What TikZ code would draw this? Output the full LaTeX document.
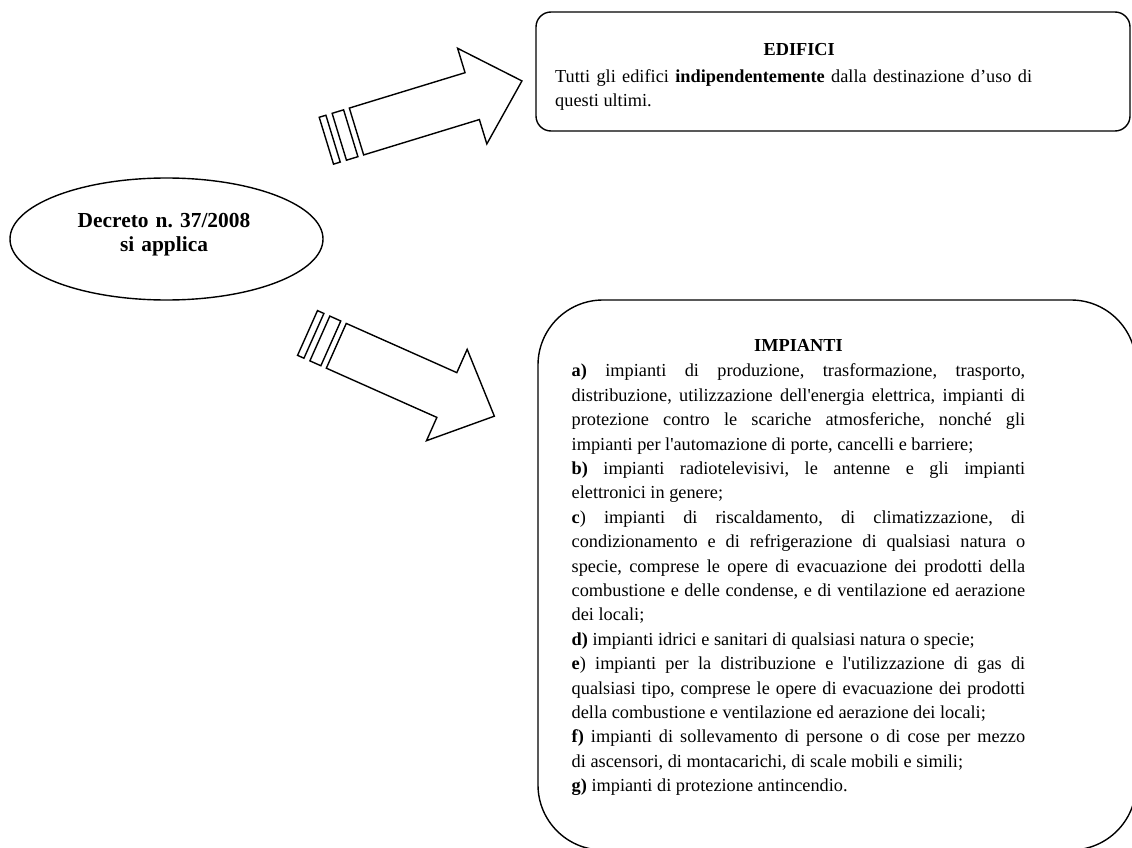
\documentclass[tikz,border=0pt]{standalone}
\usepackage{fontspec}
\setmainfont{Liberation Serif}[Ligatures=TeXOff]
\frenchspacing
\usetikzlibrary{shapes.geometric}

\tikzset{
  outline/.style={draw, line width=1.4pt},
  roundbox/.style={outline, inner sep=0pt, rounded corners=#1},
  bodytext/.style={inner sep=0pt, anchor=north west, align=justify, font=\fontsize{18.3}{24.4}\selectfont},
  arrowline/.style={outline, fill=white},
  stripearrow/.pic={
    \draw[arrowline] (0,-24.5) -- (121,-24.5) -- (121,-50) -- (173,0) -- (121,50) -- (121,24.5) -- (0,24.5) -- cycle;
    \draw[arrowline] (-18,-24.5) rectangle (-6,24.5);
    \draw[arrowline] (-31.5,-24.5) rectangle (-24.5,24.5);
  }
}

\begin{document}
\begin{tikzpicture}[x=1pt, y=-1pt]
        \useasboundingbox (0,0) rectangle (1132,848);
        \clip (0,0) rectangle (1132,848);

        \node[ellipse, outline, inner sep=0pt, minimum width=313pt, minimum height=122pt] at (166.5,239) (decreto) {};
        \node[inner sep=0pt, anchor=north, text width=280pt, align=center, font=\fontsize{21.4}{23.5}\selectfont\bfseries] at (164,211) (decretotext) {\strut Decreto n. 37/2008\\ si applica};

        \node[roundbox=15pt, minimum width=594pt, minimum height=119pt] at (833,71.5) (edifici) {};
        \node[bodytext, text width=477pt] at (555,37.9) (edificitext) {{\centering\strut\hspace*{11pt}\textbf{EDIFICI}\par}\vspace{2.6pt}Tutti gli edifici \textbf{indipendentemente} dalla destinazione d’uso di\linebreak questi ultimi.};

        \node[roundbox=65pt, minimum width=598pt, minimum height=550pt] at (837,575) (impianti) {};
        \node[bodytext, text width=453.5pt] at (571.5,333.9) (impiantitext) {{\centering\strut\textbf{IMPIANTI}\par}\vspace{1.3pt}%
\textbf{a)} impianti di produzione, trasformazione, trasporto,\linebreak
distribuzione, utilizzazione dell'energia elettrica, impianti di\linebreak
protezione contro le scariche atmosferiche, nonché gli\linebreak
impianti per l'automazione di porte, cancelli e barriere;\par
\textbf{b)} impianti radiotelevisivi, le antenne e gli impianti\linebreak
elettronici in genere;\par
\textbf{c}) impianti di riscaldamento, di climatizzazione, di\linebreak
condizionamento e di refrigerazione di qualsiasi natura o\linebreak
specie, comprese le opere di evacuazione dei prodotti della\linebreak
combustione e delle condense, e di ventilazione ed aerazione\linebreak
dei locali;\par
\textbf{d)} impianti idrici e sanitari di qualsiasi natura o specie;\par
\textbf{e}) impianti per la distribuzione e l'utilizzazione di gas di\linebreak
qualsiasi tipo, comprese le opere di evacuazione dei prodotti\linebreak
della combustione e ventilazione ed aerazione dei locali;\par
\textbf{f)} impianti di sollevamento di persone o di cose per mezzo\linebreak
di ascensori, di montacarichi, di scale mobili e simili;\par
\textbf{g)} impianti di protezione antincendio.};

        \pic[rotate=17] (uparrow) at (356.5,131.5) {stripearrow};
        \pic[rotate=-24] (downarrow) at (336.3,345.8) {stripearrow};
    \end{tikzpicture}
\end{document}
